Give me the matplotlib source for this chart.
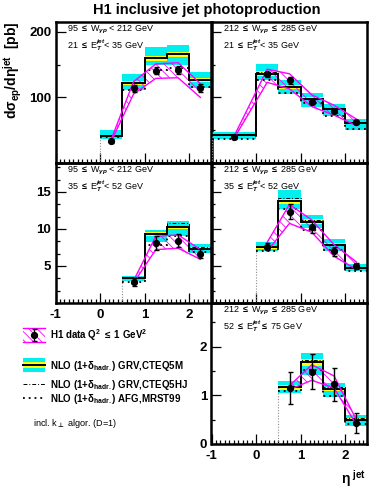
import matplotlib
matplotlib.use('Agg')
import matplotlib.pyplot as plt
import numpy as np
from matplotlib.ticker import MultipleLocator, FixedLocator
from matplotlib.patches import Rectangle

plt.rcParams['font.family'] = ['Liberation Sans', 'DejaVu Sans']
plt.rcParams['font.weight'] = 'bold'
plt.rcParams['mathtext.fontset'] = 'custom'
plt.rcParams['mathtext.rm'] = 'Liberation Sans'
plt.rcParams['mathtext.it'] = 'Liberation Sans:italic'
plt.rcParams['mathtext.bf'] = 'Liberation Sans:bold'
plt.rcParams['mathtext.sf'] = 'DejaVu Sans'
plt.rcParams['axes.unicode_minus'] = False
plt.rcParams['hatch.linewidth'] = 0.6
plt.rcParams['hatch.color'] = 'magenta'

# ---------------- data ----------------
# top-left: 95<W<212, 21<ET<35
edges_tl = [0, 0.5, 1, 1.5, 2, 2.5]
data_tl = [34, 114, 141, 142, 114]
err_tl = [3, 5, 6, 6, 6]
syslo_tl = [33, 105, 129, 130, 100]
syshi_tl = [36, 124, 151, 153, 121]
nlo_tl = [41.5, 122, 159.5, 166, 126]
yel_tl = [1.5, 3, 4, 4, 3]
cyl_tl = [36.5, 111, 149, 150, 115]
cyh_tl = [50, 136, 177, 180, 138]
hj_tl = [43, 124, 162, 168, 128]
afg_tl = [39, 112, 142, 145, 116]

# top-right: 212<W<285, 21<ET<35
edges_tr = [-1, 0, 0.5, 1, 1.5, 2, 2.5]
data_tr = [39, 135, 126, 93, 80, 62]
err_tr = [2, 4, 5, 3, 3, 2]
syslo_tr = [37, 123, 113, 86, 73, 57]
syshi_tr = [40, 143, 136, 104, 88, 67]
nlo_tr = [42.6, 136.4, 116, 98, 82.5, 60.5]
yel_tr = [1.5, 4, 3, 2.5, 2, 1.5]
cyl_tr = [37, 126, 105, 86, 71, 50]
cyh_tr = [48, 151, 127, 106, 90, 67]
hj_tr = [43.5, 138, 118, 99.5, 84, 62]
afg_tr = [36, 126, 107, 91, 71.5, 52]

# middle-left: 95<W<212, 35<ET<52
edges_ml = [0.5, 1, 1.5, 2, 2.5]
data_ml = [2.84, 8.09, 8.4, 6.67]
err_ml = [0.5, 0.9, 0.9, 0.6]
syslo_ml = [2.7, 7.2, 7.4, 5.9]
syshi_ml = [3.0, 9.0, 9.2, 7.2]
nlo_ml = [3.33, 9.29, 10.2, 7.33]
yel_ml = [0.12, 0.25, 0.25, 0.2]
cyl_ml = [2.98, 8.22, 9.07, 6.8]
cyh_ml = [3.65, 9.87, 11.07, 7.9]
hj_ml = [3.4, 9.4, 10.75, 7.5]
afg_ml = [2.8, 7.87, 9.1, 6.85]

# middle-right: 212<W<285, 35<ET<52
edges_mr = [0, 0.5, 1, 1.5, 2, 2.5]
data_mr = [7.6, 12.3, 10.3, 6.98, 4.98]
err_mr = [0.5, 1.0, 0.8, 0.6, 0.4]
syslo_mr = [7.0, 10.75, 9.55, 6.3, 4.53]
syshi_mr = [8.2, 13.3, 11.2, 7.87, 5.55]
nlo_mr = [7.5, 13.73, 10.98, 7.87, 4.67]
yel_mr = [0.2, 0.35, 0.3, 0.2, 0.12]
cyl_mr = [7.0, 12.75, 10.1, 7.0, 4.3]
cyh_mr = [8.2, 15.2, 11.9, 8.6, 5.2]
hj_mr = [7.6, 14.2, 11.2, 8.0, 4.8]
afg_mr = [6.97, 12.75, 9.8, 7.1, 4.3]

# bottom-right: 212<W<285, 52<ET<75
edges_br = [0.5, 1, 1.5, 2, 2.5]
data_br = [1.16, 1.49, 1.23, 0.43]
err_br = [0.33, 0.36, 0.34, 0.2]
syslo_br = [1.12, 1.31, 1.15, 0.40]
syshi_br = [1.20, 1.63, 1.40, 0.50]
nlo_br = [1.17, 1.68, 1.13, 0.5]
yel_br = [0.05, 0.07, 0.05, 0.03]
cyl_br = [1.05, 1.42, 0.97, 0.36]
cyh_br = [1.30, 1.87, 1.25, 0.6]
hj_br = [1.2, 1.72, 1.17, 0.53]
afg_br = [1.09, 1.52, 0.98, 0.42]

x_ticks = [-1, 0, 1, 2]

# ---------------- figure ----------------
W, H = 369, 488
fig = plt.figure(figsize=(W / 100, H / 100), dpi=100)


def rect(x0, x1, y0, y1):
    return [x0 / W, 1 - y1 / H, (x1 - x0) / W, (y1 - y0) / H]


# legend / decoration layer in pixel coordinates
lg = fig.add_axes([0, 0, 1, 1])
lg.set_xlim(0, W)
lg.set_ylim(H, 0)
lg.axis('off')

LX0, LX1, RX1 = 55.5, 211.5, 367.5
ROWS = [(22, 163), (163, 303), (303, 444)]


def panel(pos, edges, data, err, slo, shi, nlo, yel, clo, chi, hj, afg,
          ylim, yticks, yminor, lines, xlabels, ylabels):
    ax = fig.add_axes(pos)
    edges = np.asarray(edges, float)
    cen = 0.5 * (edges[:-1] + edges[1:])
    nlo = np.asarray(nlo, float)
    yel = np.asarray(yel, float)
    ax.stairs(chi, edges, baseline=clo, fill=True, color='#00f0f0', lw=0, zorder=1)
    ax.stairs(nlo + yel, edges, baseline=nlo - yel, fill=True, color='#ffff00', lw=0, zorder=2)
    ax.stairs(nlo, edges, baseline=None, color='k', lw=1.4, zorder=4)
    ax.stairs(hj, edges, baseline=None, color='k', lw=0.7, ls=(0, (4, 2, 1, 2)), zorder=4)
    ax.stairs(afg, edges, baseline=None, color='k', lw=1.3, ls=(0, (1, 2.2)), zorder=4)
    ax.vlines(edges[0], ylim[0], nlo[0], color='0.55', lw=0.8, ls=(0, (1, 1.5)), zorder=3)
    ax.fill_between(cen, slo, shi, facecolor='none', edgecolor='magenta',
                    hatch='\\\\\\\\', lw=0, zorder=3)
    ax.plot(cen, slo, color='magenta', lw=1.0, zorder=5)
    ax.plot(cen, shi, color='magenta', lw=1.0, zorder=5)
    ax.errorbar(cen, data, yerr=err, fmt='o', color='k', ms=4.2, capsize=1.8,
                elinewidth=1.0, capthick=1.0, zorder=6)
    ax.set_xlim(-1, 2.5)
    ax.set_ylim(*ylim)
    ax.xaxis.set_major_locator(FixedLocator(x_ticks))
    ax.xaxis.set_minor_locator(MultipleLocator(0.1))
    ax.yaxis.set_major_locator(FixedLocator(yticks))
    ax.yaxis.set_minor_locator(MultipleLocator(yminor))
    ax.tick_params(which='both', direction='in', top=False, right=False,
                   width=0.9, labelsize=9.5, pad=3)
    ax.tick_params(which='major', length=7)
    ax.tick_params(which='minor', length=3.2)
    ax.tick_params(axis='x', pad=4)
    if not xlabels:
        ax.tick_params(labelbottom=False)
    if not ylabels:
        ax.tick_params(labelleft=False)
    for s in ax.spines.values():
        s.set_linewidth(1.8)
    ax.patch.set_alpha(0)
    ax.text(0.074, 0.932, lines[0], transform=ax.transAxes, ha='left', va='baseline',
            fontsize=6.5, fontweight='normal', zorder=7)
    ax.text(0.074, 0.812, lines[1], transform=ax.transAxes, ha='left', va='baseline',
            fontsize=6.5, fontweight='normal', zorder=7)
    return ax


wlo = r'95 $\leq$ W$_{\gamma p}$ < 212 GeV'
whi = r'212 $\leq$ W$_{\gamma p}$ $\leq$ 285 GeV'

panel(rect(LX0, LX1, *ROWS[0]), edges_tl, data_tl, err_tl, syslo_tl, syshi_tl,
      nlo_tl, yel_tl, cyl_tl, cyh_tl, hj_tl, afg_tl, (0, 215), [100, 200], 50,
      (wlo, r'21 $\leq$ E$_T^{jet}$< 35 GeV'), False, True)
panel(rect(LX1, RX1, *ROWS[0]), edges_tr, data_tr, err_tr, syslo_tr, syshi_tr,
      nlo_tr, yel_tr, cyl_tr, cyh_tr, hj_tr, afg_tr, (0, 215), [100, 200], 50,
      (whi, r'21 $\leq$ E$_T^{jet}$< 35 GeV'), False, False)
panel(rect(LX0, LX1, *ROWS[1]), edges_ml, data_ml, err_ml, syslo_ml, syshi_ml,
      nlo_ml, yel_ml, cyl_ml, cyh_ml, hj_ml, afg_ml, (0, 18.9), [5, 10, 15], 5 / 3,
      (wlo, r'35 $\leq$ E$_T^{jet}$< 52 GeV'), True, True)
panel(rect(LX1, RX1, *ROWS[1]), edges_mr, data_mr, err_mr, syslo_mr, syshi_mr,
      nlo_mr, yel_mr, cyl_mr, cyh_mr, hj_mr, afg_mr, (0, 18.9), [5, 10, 15], 5 / 3,
      (whi, r'35 $\leq$ E$_T^{jet}$< 52 GeV'), False, False)
panel(rect(LX1, RX1, *ROWS[2]), edges_br, data_br, err_br, syslo_br, syshi_br,
      nlo_br, yel_br, cyl_br, cyh_br, hj_br, afg_br, (0, 2.9), [0, 1, 2], 0.5,
      (whi, r'52 $\leq$ E$_T^{jet}$$\leq$ 75 GeV'), True, True)

# titles / axis labels
fig.text(207 / W, 1 - 10 / H, 'H1 inclusive jet photoproduction', ha='center',
         va='center', fontsize=10.5, fontweight='bold')
fig.text(13 / W, 1 - 70 / H, r'd$\mathbf{\sigma}_{\mathbf{ep}}$/d$\mathbf{\eta}^{\mathbf{jet}}$  [pb]',
         rotation=90, ha='center', va='center', fontsize=10, fontweight='bold')
fig.text(366 / W, 1 - 479 / H, r'$\mathrm{\eta}^{\ \mathbf{jet}}$', ha='right', va='center',
         fontsize=10)

# ---------------- legend ----------------
lg.add_patch(Rectangle((23, 328), 22, 14, facecolor='none', edgecolor='magenta',
                       hatch='\\\\\\\\', lw=0))
lg.plot([23, 45], [328, 328], color='magenta', lw=1.0)
lg.plot([23, 45], [342, 342], color='magenta', lw=1.0)
lg.errorbar([34], [335], yerr=[[6], [6]], fmt='o', color='k', ms=4.2, capsize=1.8,
            elinewidth=1.0, capthick=1.0)
lg.text(50, 335, r'H1 data Q$^{\mathbf{2}}$ $\leq$ 1 GeV$^{\mathbf{2}}$', fontsize=7, va='center', ha='left')

lg.add_patch(Rectangle((23, 358), 22, 14, facecolor='#00f0f0', lw=0))
lg.add_patch(Rectangle((23, 362), 22, 6, facecolor='#ffff00', lw=0))
lg.plot([23, 45], [365, 365], color='k', lw=1.4)
lg.text(50, 366, r'NLO (1+$\mathbf{\delta}_{\mathbf{hadr.}}$) GRV,CTEQ5M', fontsize=7,
        va='center', ha='left')

lg.plot([23, 45], [384, 384], color='k', lw=0.7, ls=(0, (4, 2, 1, 2)))
lg.text(50, 385, r'NLO (1+$\mathbf{\delta}_{\mathbf{hadr.}}$) GRV,CTEQ5HJ', fontsize=7,
        va='center', ha='left')

lg.plot([23, 45], [398, 398], color='k', lw=1.3, ls=(0, (1, 2.2)))
lg.text(50, 399, r'NLO (1+$\mathbf{\delta}_{\mathbf{hadr.}}$) AFG,MRST99', fontsize=7,
        va='center', ha='left')

lg.text(33, 424, r'incl. k$_{\mathsf{\bot}}$ algor. (D=1)', fontsize=6.6, fontweight='normal',
        va='center', ha='left')

fig.savefig('out.png', dpi=100)
